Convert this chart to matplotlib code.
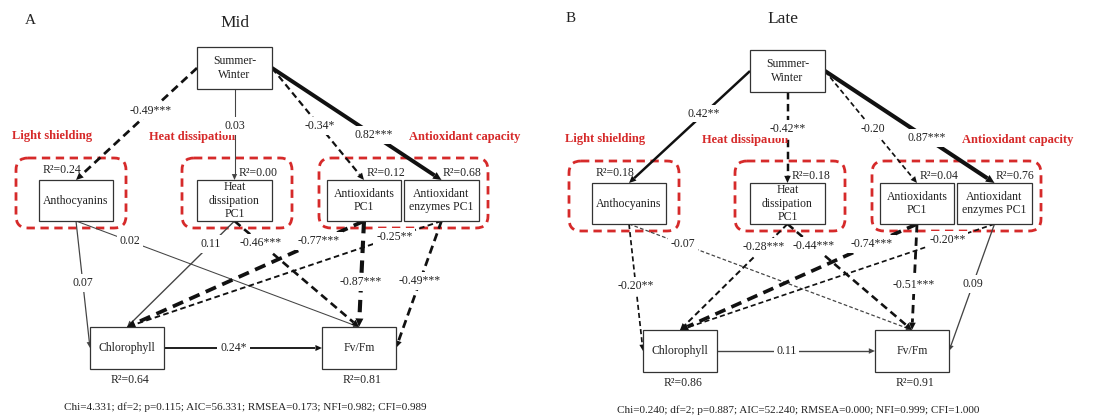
import matplotlib.pyplot as plt
from matplotlib.patches import Rectangle, FancyBboxPatch, Polygon
import numpy as np

plt.rcParams['font.family'] = ['Liberation Serif', 'DejaVu Serif']

# ---- data ----
node_names = ['sw', 'antho', 'heat', 'anti', 'enz', 'chl', 'fv']
node_labels = ['Summer-\nWinter', 'Anthocyanins', 'Heat\ndissipation\nPC1',
               'Antioxidants\nPC1', 'Antioxidant\nenzymes PC1', 'Chlorophyll', 'Fv/Fm']
group_labels = ['Light shielding', 'Heat dissipation', 'Antioxidant capacity']

# paths: (from, from side, to, to side)
paths = [('sw', 'L', 'antho', 'T'), ('sw', 'B', 'heat', 'T'), ('sw', 'R', 'anti', 'T'),
         ('sw', 'R', 'enz', 'T'), ('antho', 'B', 'chl', 'L'), ('antho', 'B', 'fv', 'T'),
         ('heat', 'B', 'chl', 'T'), ('heat', 'B', 'fv', 'T'), ('anti', 'B', 'chl', 'T'),
         ('anti', 'B', 'fv', 'T'), ('enz', 'B', 'chl', 'T'), ('enz', 'B', 'fv', 'R'),
         ('chl', 'R', 'fv', 'L')]

mid_coef = [-0.49, 0.03, -0.34, 0.82, 0.07, 0.02, 0.11, -0.46, -0.77, -0.87, -0.25, -0.49, 0.24]
mid_sig = ['***', '', '*', '***', '', '', '', '***', '***', '***', '**', '***', '*']
late_coef = [0.42, -0.42, -0.20, 0.87, -0.20, -0.07, -0.28, -0.44, -0.74, -0.51, -0.20, 0.09, 0.11]
late_sig = ['**', '**', '', '***', '**', '', '***', '***', '***', '***', '**', '', '']

r2_nodes = ['antho', 'heat', 'anti', 'enz', 'chl', 'fv']
mid_r2 = [0.24, 0.00, 0.12, 0.68, 0.64, 0.81]
late_r2 = [0.18, 0.18, 0.04, 0.76, 0.86, 0.91]

mid_fit = 'Chi=4.331; df=2; p=0.115; AIC=56.331; RMSEA=0.173; NFI=0.982; CFI=0.989'
late_fit = 'Chi=0.240; df=2; p=0.887; AIC=52.240; RMSEA=0.000; NFI=0.999; CFI=1.000'

# ---- layout (pixels, panel A frame) ----
boxes = {'sw': (197, 47, 272, 89), 'antho': (39, 180, 113, 221), 'heat': (197, 180, 272, 221),
         'anti': (327, 180, 401, 221), 'enz': (404, 180, 479, 221),
         'chl': (90, 327, 164, 369), 'fv': (322, 327, 396, 369)}
groups = [(16, 158, 126, 228), (182, 158, 292, 228), (319, 158, 488, 228)]
group_text_pos = [(52, 136), (192, 137), (465, 137)]
r2_pos = {'antho': (62, 170), 'heat': (258, 173), 'anti': (386, 173), 'enz': (462, 173),
          'chl': (130, 380), 'fv': (362, 380)}
label_t = [0.38, 0.41, 0.52, 0.6, 0.49, 0.19, 0.22, 0.21, 0.19, 0.58, 0.15, 0.47, 0.44]

RED = '#d62a2a'
INK = '#222222'

fig = plt.figure(figsize=(11.07, 4.19), dpi=100)
ax = fig.add_axes([0, 0, 1, 1])
ax.set_xlim(0, 1107)
ax.set_ylim(419, 0)
ax.axis('off')


def anchor(name, side, dx, dy):
    x0, y0, x1, y1 = boxes[name]
    cx, cy = (x0 + x1) / 2, (y0 + y1) / 2
    p = {'L': (x0, cy), 'R': (x1, cy), 'T': (cx, y0), 'B': (cx, y1)}[side]
    return np.array([p[0] + dx, p[1] + dy])


def draw_panel(dx, dy, coefs, sigs, r2, fit, fit_y):
    for (x0, y0, x1, y1) in groups:
        ax.add_patch(FancyBboxPatch((x0 + dx + 10, y0 + dy + 10), x1 - x0 - 20, y1 - y0 - 20,
                                    boxstyle='round,pad=10,rounding_size=12', fill=False,
                                    ec=RED, lw=2.0, ls=(0, (3, 2))))
    for txt, (x, y) in zip(group_labels, group_text_pos):
        ax.text(x + dx, y + dy, txt, color=RED, fontsize=9, fontweight='bold',
                ha='center', va='center', zorder=5)

    for name, lab in zip(node_names, node_labels):
        x0, y0, x1, y1 = boxes[name]
        ax.add_patch(Rectangle((x0 + dx, y0 + dy), x1 - x0, y1 - y0, fill=True, fc='white',
                               ec='#333333', lw=0.9, zorder=3))
        ax.text((x0 + x1) / 2 + dx, (y0 + y1) / 2 + dy, lab, fontsize=8.5, color=INK,
                ha='center', va='center', linespacing=1.15, zorder=4)

    for (s, ss, d, ds), c, sg, t in zip(paths, coefs, sigs, label_t):
        p0 = anchor(s, ss, dx, dy)
        p1 = anchor(d, ds, dx, dy)
        lw = 0.7 + 2.6 * abs(c)
        u = (p1 - p0) / np.hypot(*(p1 - p0))
        n = np.array([-u[1], u[0]])
        hl, hw = 5 + 1.2 * lw, 2.2 + 0.6 * lw
        base = p1 - hl * u
        ls = (0, (3, 1.8)) if c < 0 else '-'
        col = '#111111' if abs(c) > 0.15 else '#444444'
        ax.plot([p0[0], base[0]], [p0[1], base[1]], color=col, lw=lw, ls=ls,
                solid_capstyle='butt', zorder=2)
        ax.add_patch(Polygon([p1, base + hw * n, base - hw * n], closed=True,
                             color=col, lw=0, zorder=2))
        lp = p0 + t * (p1 - p0)
        ax.text(lp[0], lp[1], f'{c:.2f}{sg}', fontsize=8.5, color=INK, ha='center',
                va='center', zorder=6,
                bbox=dict(fc='white', ec='none', pad=2.0))

    for name, v in zip(r2_nodes, r2):
        x, y = r2_pos[name]
        ax.text(x + dx, y + dy, f'R²={v:.2f}', fontsize=8.5, color=INK,
                ha='center', va='center', zorder=6)

    ax.text(245 + dx, fit_y, fit, fontsize=8, color=INK, ha='center', va='center')


draw_panel(0, 0, mid_coef, mid_sig, mid_r2, mid_fit, 407)
draw_panel(553, 3, late_coef, late_sig, late_r2, late_fit, 410)

ax.text(30, 20, 'A', fontsize=11, color=INK, ha='center', va='center')
ax.text(235, 23, 'Mid', fontsize=12.5, color=INK, ha='center', va='center')
ax.text(571, 18, 'B', fontsize=11, color=INK, ha='center', va='center')
ax.text(783, 19, 'Late', fontsize=12.5, color=INK, ha='center', va='center')

fig.savefig('out.png', dpi=100)
